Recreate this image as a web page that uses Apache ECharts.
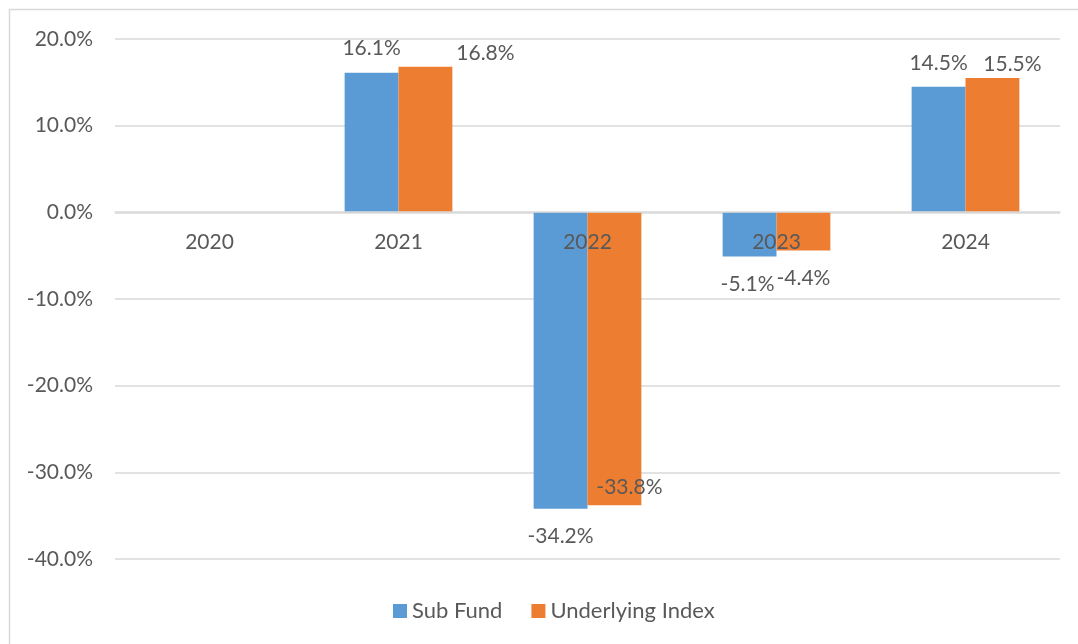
<!DOCTYPE html>
<html>
<head>
<meta charset="utf-8">
<script src="https://cdn.jsdelivr.net/npm/echarts@6/dist/echarts.min.js"></script>
<style>
html,body{margin:0;padding:0;background:#fff;}
#chart{width:1078px;height:644px;}
</style>
</head>
<body>
<div id="chart"></div>
<script>
const categories = ['2020', '2021', '2022', '2023', '2024'];
const subFund = [null, 16.1, -34.2, -5.1, 14.5];
const underlyingIndex = [null, 16.8, -33.8, -4.4, 15.5];
const seriesNames = ['Sub Fund', 'Underlying Index'];
const yTicks = [-40, -30, -20, -10, 0, 10, 20];

const FONT = 'Lato';
const TXT = '#595959';
const FS = 21;

// label nudges imitating the original's collision avoidance (layout only)
const labelNudge = {
  0: { 1: [0, -11], 2: [0, 0], 3: [-2, 0], 4: [0, -10] },
  1: { 1: [60, 0], 2: [15, -46], 3: [0, 0], 4: [20, 0] }
};

function buildData(values, sIdx) {
  return values.map((v, i) => {
    if (v === null) return null;
    const neg = v < 0;
    return {
      value: v,
      label: {
        position: neg ? 'bottom' : 'top',
        distance: neg ? 17 : 3,
        offset: (labelNudge[sIdx][i] || [0, 0])
      }
    };
  });
}

const chart = echarts.init(document.getElementById('chart'), null, { renderer: 'canvas' });
const labelCommon = {
  show: true,
  color: TXT,
  fontFamily: FONT,
  fontSize: FS,
  formatter: p => p.value.toFixed(1) + '%'
};
chart.setOption({
  animation: false,
  backgroundColor: '#fff',
  graphic: [{
    type: 'rect',
    shape: { x: 9.5, y: 9.5, width: 1200, height: 800 },
    style: { fill: 'none', stroke: '#d9d9d9', lineWidth: 1.5 },
    silent: true, z: -1
  }],
  grid: { left: 115, right: 18, top: 39, bottom: 85, containLabel: false },
  legend: {
    bottom: 17,
    left: 388,
    itemWidth: 14, itemHeight: 14, itemGap: 29,
    icon: 'rect',
    textStyle: { color: TXT, fontFamily: FONT, fontSize: 22 },
    data: seriesNames
  },
  xAxis: {
    type: 'category',
    data: categories,
    z: 10,
    position: 'bottom',
    offset: -347,
    axisTick: { show: false },
    axisLine: { onZero: false, lineStyle: { color: '#d9d9d9', width: 1.5 } },
    axisLabel: { color: TXT, fontFamily: FONT, fontSize: FS, margin: 20 }
  },
  yAxis: {
    type: 'value',
    min: yTicks[0], max: yTicks[yTicks.length - 1], interval: 10,
    axisLine: { show: false },
    axisTick: { show: false },
    splitLine: { lineStyle: { color: '#d9d9d9', width: 1.5 } },
    axisLabel: { color: TXT, fontFamily: FONT, fontSize: FS, margin: 22,
      formatter: v => v.toFixed(1) + '%' }
  },
  series: [
    { name: seriesNames[0], type: 'bar', data: buildData(subFund, 0),
      itemStyle: { color: '#5B9BD5' }, barGap: '0%', barCategoryGap: '43%',
      label: labelCommon },
    { name: seriesNames[1], type: 'bar', data: buildData(underlyingIndex, 1),
      itemStyle: { color: '#ED7D31' }, barGap: '0%', barCategoryGap: '43%',
      label: labelCommon }
  ]
});
</script>
</body>
</html>
